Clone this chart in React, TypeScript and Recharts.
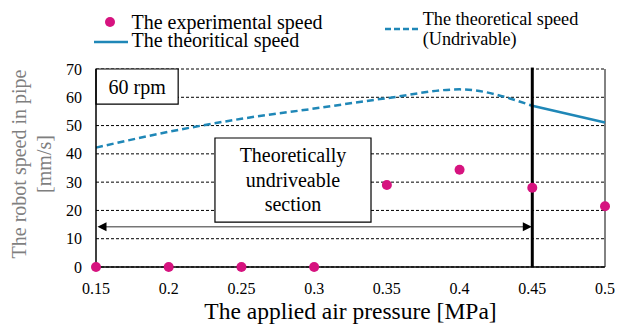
import React from 'react';
import {
  ComposedChart, Line, Scatter, XAxis, YAxis, CartesianGrid, ReferenceLine, ReferenceArea,
} from 'recharts';

const pressure = [0.15, 0.2, 0.25, 0.3, 0.35, 0.4, 0.45, 0.5];
const experimental = [0, 0, 0, 0, 29, 34.4, 28, 21.5];
const theoryUndrivable = [42.2, 47.8, 52.4, 56, 59.7, 62.8, 57, null];
const theoryDrivable = [null, null, null, null, null, null, 57, 51.1];
const xTicks = [0.15, 0.2, 0.25, 0.3, 0.35, 0.4, 0.45, 0.5];
const yTicks = [0, 10, 20, 30, 40, 50, 60, 70];

const data = pressure.map((p, i) => ({
  p,
  exp: experimental[i],
  dash: theoryUndrivable[i],
  solid: theoryDrivable[i],
}));

const FONT = 'Liberation Serif, serif';
const PINK = '#d6137f';
const BLUE = '#1f87b7';

// text drawn at 20px and scaled, so small sizes keep the serif face
function SText({ x, y, size, anchor = 'start', fill = '#000', children }: any) {
  return (
    <text
      transform={`translate(${x},${y}) scale(${size / 20})`}
      fontSize={20} fontFamily={FONT} fill={fill} textAnchor={anchor}
    >
      {children}
    </text>
  );
}

function Arrow(props: any) {
  const { x1, y1, x2, y2 } = props;
  const l = x1 + 1.5;
  const r = x2 - 0.5;
  return (
    <g>
      <line x1={l + 8} y1={y1} x2={r - 8} y2={y2} stroke="#333" strokeWidth={1} />
      <polygon points={`${l},${y1} ${l + 9},${y1 - 4.5} ${l + 9},${y1 + 4.5}`} fill="#000" />
      <polygon points={`${r},${y2} ${r - 9},${y2 - 4.5} ${r - 9},${y2 + 4.5}`} fill="#000" />
    </g>
  );
}

function Tick(props: any) {
  const { x, y, payload, axis } = props;
  if (axis === 'x') {
    return <SText x={x} y={y + 27} size={16} anchor="middle">{String(payload.value)}</SText>;
  }
  return <SText x={x} y={y + 5.5} size={16} anchor="end">{String(payload.value)}</SText>;
}

function Legend() {
  return (
    <svg width={617} height={60} style={{ position: 'absolute', left: 0, top: 0, pointerEvents: 'none' }}>
      <circle cx={110} cy={22} r={5} fill={PINK} />
      <SText x={131.5} y={28.7} size={20}>The experimental speed</SText>
      <line x1={94} y1={42} x2={128} y2={42} stroke={BLUE} strokeWidth={2.5} />
      <SText x={131.5} y={47.3} size={20}>The theoritical speed</SText>
      <line x1={385} y1={29} x2={418} y2={29} stroke={BLUE} strokeWidth={2.5} strokeDasharray="6 3" />
      <SText x={422.7} y={25} size={18.2}>The theoretical speed</SText>
      <SText x={422.7} y={45} size={18.2}>(Undrivable)</SText>
    </svg>
  );
}

export default function App() {
  return (
    <div style={{ position: 'absolute', left: 0, top: 0, width: 617, height: 329, background: '#fff', fontFamily: FONT }}>
      <ComposedChart width={617} height={329} data={data} margin={{ top: 69, right: 12, bottom: 0, left: 0 }}>
        <CartesianGrid vertical={false} stroke="#000" strokeDasharray="3 2" />
        <XAxis
          dataKey="p"
          type="number"
          domain={[0.15, 0.5]}
          ticks={xTicks}
          height={62}
          tickSize={0}
          tickMargin={0}
          axisLine={{ stroke: '#000', strokeWidth: 1.5 }}
          tick={<Tick axis="x" />}
          label={{ value: 'The applied air pressure [MPa]', position: 'insideBottom', offset: 10, fontSize: 23.5, fill: '#000', fontFamily: FONT }}
        />
        <YAxis
          type="number"
          domain={[0, 70]}
          ticks={yTicks}
          width={96}
          tickSize={0}
          tickMargin={14}
          axisLine={{ stroke: '#000', strokeWidth: 1.5 }}
          tick={<Tick axis="y" />}
          label={{
            content: () => (
              <text transform="translate(31,164) rotate(-90)" textAnchor="middle" fill="#7f7f7f" fontSize={20} fontFamily={FONT}>
                <tspan x={0} dy={-5}>The robot speed in pipe</tspan>
                <tspan x={0} dy={25}>[mm/s]</tspan>
              </text>
            ),
          }}
        />
        <ReferenceArea
          x1={0.15} x2={0.2065} y1={57.6} y2={70}
          fill="#fff" fillOpacity={1} stroke="#000" strokeWidth={1.2}
          label={{ value: '60 rpm', position: 'center', fontSize: 20, fill: '#000', fontFamily: FONT }}
        />
        <ReferenceArea
          x1={0.2318} x2={0.3391} y1={15.9} y2={45.6}
          fill="#fff" fillOpacity={1} stroke="#000" strokeWidth={1.2}
          label={{
            content: (p: any) => {
              const vb = p.viewBox;
              const cx = vb.x + vb.width / 2;
              const cy = vb.y + vb.height / 2;
              return (
                <text textAnchor="middle" fontSize={20} fontFamily={FONT} fill="#000">
                  <tspan x={cx} y={cy - 18}>Theoretically</tspan>
                  <tspan x={cx} y={cy + 7}>undriveable</tspan>
                  <tspan x={cx} y={cy + 31}>section</tspan>
                </text>
              );
            },
          }}
        />
        <ReferenceLine x={0.5} stroke="#595959" strokeWidth={1.5} />
        <ReferenceLine
          segment={[{ x: 0.15, y: 14.2 }, { x: 0.45, y: 14.2 }]}
          shape={Arrow}
        />
        <Line
          dataKey="dash" type="monotone" stroke={BLUE} strokeWidth={2.5} strokeDasharray="7 4"
          dot={false} activeDot={false} connectNulls={false} isAnimationActive={false}
        />
        <Line
          dataKey="solid" type="monotone" stroke={BLUE} strokeWidth={2.5}
          dot={false} activeDot={false} connectNulls={false} isAnimationActive={false}
        />
        <ReferenceLine
          segment={[{ x: 0.45, y: 0 }, { x: 0.45, y: 70.5 }]}
          stroke="#000" strokeWidth={3} ifOverflow="visible"
        />
        <Scatter
          dataKey="exp" fill={PINK} isAnimationActive={false}
          shape={(p: any) => <circle cx={p.cx} cy={p.cy} r={5} fill={PINK} />}
        />
      </ComposedChart>
      <Legend />
    </div>
  );
}
